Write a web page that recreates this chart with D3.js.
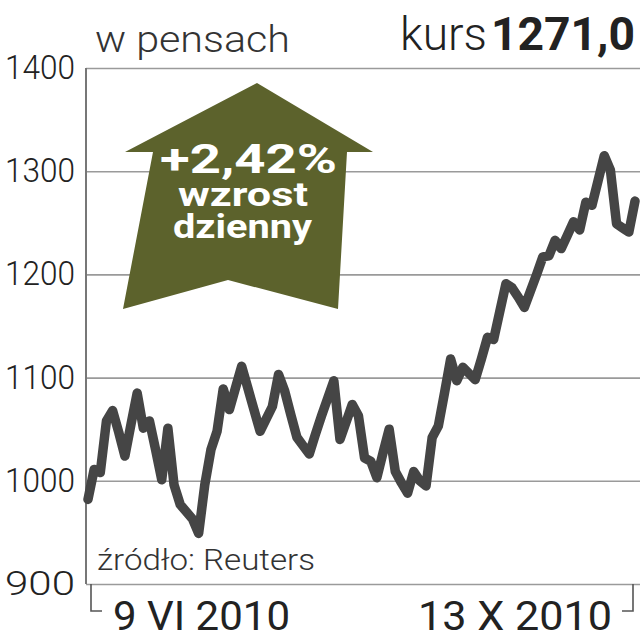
<!DOCTYPE html>
<html lang="pl">
<head>
<meta charset="utf-8">
<title>kurs</title>
<script src="https://d3js.org/d3.v7.min.js"></script>
<style>
  body { margin: 0; background: #fff; }
  svg { display: block; }
  text { font-family: Roboto, 'DejaVu Sans Condensed', sans-serif; fill: #222; }
</style>
</head>
<body>
<script>
// kurs w pensach, sesje od 9 VI 2010 do 13 X 2010
var prices = [982, 1011, 1008, 1058, 1068, 1047, 1024, 1055, 1085, 1051,
              1058, 1030, 1001, 1051, 996, 977, 970, 963, 949, 996,
              1030, 1048, 1089, 1069, 1090, 1111, 1090, 1069, 1048, 1060,
              1072, 1103, 1087, 1064, 1042, 1034, 1026, 1045, 1063, 1080,
              1097, 1040, 1057, 1074, 1063, 1022, 1019, 1003, 1027, 1050,
              1009, 998, 988, 1009, 1000, 995, 1042, 1053, 1085, 1118,
              1097, 1110, 1104, 1098, 1118, 1139, 1137, 1164, 1191, 1187,
              1178, 1168, 1184, 1200, 1217, 1218, 1233, 1225, 1238, 1251,
              1243, 1270, 1267, 1291, 1315, 1301, 1249, 1245, 1241, 1271];
var yTicks = [900, 1000, 1100, 1200, 1300, 1400];
var dateLabels = ["9 VI 2010", "13 X 2010"];
var lastPrice = "1271,0";
var change = "+2,42%";

var W = 640, H = 640;
var svg = d3.select("body").append("svg")
    .attr("width", W)
    .attr("height", H);

var x = d3.scaleLinear().domain([0, prices.length - 1]).range([88, 635]);
var y = d3.scaleLinear().domain([900, 1400]).range([584, 68]);

// siatka + opisy osi Y
var yAxis = svg.append("g")
    .attr("transform", "translate(86,0)")
    .call(d3.axisLeft(y).tickValues(yTicks).tickSize(-(W - 86)).tickPadding(11).tickFormat(d3.format("d")));
yAxis.select(".domain").remove();
yAxis.selectAll(".tick line").attr("stroke", "#9a9a9a").attr("stroke-width", 1.6);
yAxis.selectAll(".tick text")
    .attr("font-size", 33)
    .attr("font-weight", 300)
    .attr("fill", "#333")
    .attr("textLength", 70).attr("lengthAdjust", "spacingAndGlyphs")
    .attr("font-family", "Roboto, sans-serif");

// pionowa os
svg.append("line")
    .attr("x1", 86).attr("x2", 86)
    .attr("y1", y(1400)).attr("y2", y(900))
    .attr("stroke", "#777").attr("stroke-width", 2);

// klamry daty
svg.append("path")
    .attr("d", "M91," + y(900) + "V611H102")
    .attr("fill", "none").attr("stroke", "#555").attr("stroke-width", 1.6);
svg.append("path")
    .attr("d", "M633," + y(900) + "V611H622")
    .attr("fill", "none").attr("stroke", "#555").attr("stroke-width", 1.6);

// strzalka
svg.append("polygon")
    .attr("points", "257,83 373,152 347,152 338,309 228,280 123,309 153,152 125,152")
    .attr("fill", "#5c622c");

var arrowTxt = [
  { t: change, x: 160, y: 173, s: 40, w: 177 },
  { t: "wzrost", x: 178, y: 206, s: 34, w: 130 },
  { t: "dzienny", x: 173, y: 238, s: 34, w: 139 }
];
svg.selectAll(".arr")
    .data(arrowTxt)
    .enter().append("text")
    .attr("class", "arr")
    .attr("x", function(d) { return d.x; })
    .attr("y", function(d) { return d.y; })
    .attr("font-size", function(d) { return d.s; })
    .attr("font-weight", "bold")
    .attr("textLength", function(d) { return d.w; })
    .attr("lengthAdjust", "spacingAndGlyphs")
    .style("fill", "#fff")
    .text(function(d) { return d.t; });

// linia kursu
var line = d3.line()
    .x(function(d, i) { return x(i); })
    .y(function(d) { return y(d); });

svg.append("path")
    .datum(prices)
    .attr("d", line)
    .attr("fill", "none")
    .attr("stroke", "#454545")
    .attr("stroke-width", 9.5)
    .attr("stroke-linejoin", "round")
    .attr("stroke-linecap", "round");

// naglowki
svg.append("text")
    .attr("x", 95).attr("y", 52)
    .attr("font-size", 37).attr("font-weight", 300)
    .attr("textLength", 195).attr("lengthAdjust", "spacingAndGlyphs")
    .style("fill", "#333")
    .text("w pensach");

svg.append("text")
    .attr("x", 400).attr("y", 50)
    .attr("font-size", 46).attr("font-weight", 300)
    .attr("textLength", 87).attr("lengthAdjust", "spacingAndGlyphs")
    .text("kurs");
svg.append("text")
    .attr("x", 491).attr("y", 50)
    .attr("font-size", 46).attr("font-weight", "bold")
    .attr("textLength", 144).attr("lengthAdjust", "spacingAndGlyphs")
    .text(lastPrice);

svg.append("text")
    .attr("x", 97).attr("y", 570)
    .attr("font-size", 30).attr("font-weight", 300)
    .attr("textLength", 218).attr("lengthAdjust", "spacingAndGlyphs")
    .style("fill", "#333")
    .text("źródło: Reuters");

svg.append("text")
    .attr("x", 113).attr("y", 630)
    .attr("font-size", 41)
    .attr("textLength", 177).attr("lengthAdjust", "spacingAndGlyphs")
    .text(dateLabels[0]);

svg.append("text")
    .attr("x", 612).attr("y", 630)
    .attr("text-anchor", "end")
    .attr("font-size", 41)
    .attr("textLength", 194).attr("lengthAdjust", "spacingAndGlyphs")
    .text(dateLabels[1]);
</script>
</body>
</html>
